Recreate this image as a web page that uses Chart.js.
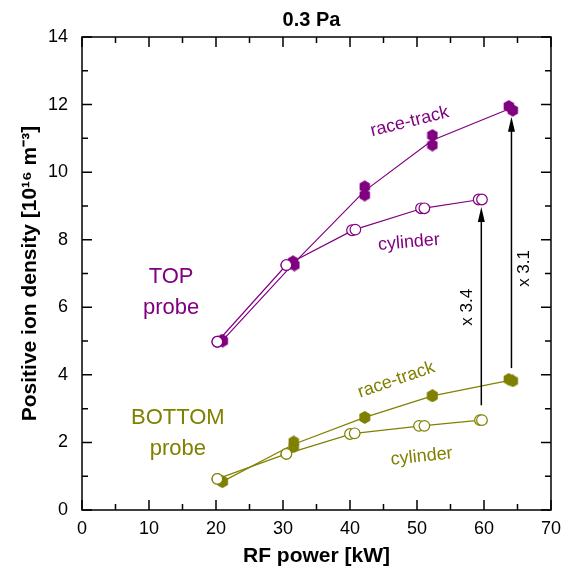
<!DOCTYPE html>
<html>
<head>
<meta charset="utf-8">
<script src="https://cdn.jsdelivr.net/npm/chart.js@4"></script>
<style>
  html, body { margin: 0; padding: 0; background: #fff; }
  #wrap { width: 569px; height: 580px; }
</style>
</head>
<body>
<div id="wrap"><canvas id="chart" width="569" height="580"></canvas></div>
<script>
// RF power [kW] / density [1e16 m^-3], two runs per series (A and B)
const raceTopPowerA = [20.9, 31.5, 42.2, 52.3, 63.7];
const raceTopDensA  = [5.03, 7.35, 9.57, 11.09, 11.95];
const raceTopPowerB = [21.0, 31.7, 42.2, 52.3, 64.3];
const raceTopDensB  = [5.00, 7.25, 9.32, 10.80, 11.83];

const cylTopPowerA = [20.2, 30.5, 40.3, 50.6, 59.2];
const cylTopDensA  = [4.98, 7.25, 8.28, 8.93, 9.19];
const cylTopPowerB = [20.2, 30.5, 40.8, 51.1, 59.7];
const cylTopDensB  = [4.98, 7.25, 8.30, 8.93, 9.19];

const raceBotPowerA = [20.9, 31.6, 42.2, 52.3, 63.7];
const raceBotDensA  = [0.84, 2.02, 2.74, 3.38, 3.87];
const raceBotPowerB = [21.0, 31.6, 42.2, 52.3, 64.3];
const raceBotDensB  = [0.84, 1.87, 2.74, 3.38, 3.82];

const cylBotPowerA = [20.2, 30.5, 40.0, 50.3, 59.4];
const cylBotDensA  = [0.92, 1.66, 2.25, 2.49, 2.66];
const cylBotPowerB = [20.2, 30.5, 40.7, 51.1, 59.7];
const cylBotDensB  = [0.92, 1.66, 2.27, 2.49, 2.66];

// ratio arrows: power, from, to
const arrowPower = [59.6, 64.1];
const arrowFrom  = [3.1, 4.2];
const arrowTo    = [8.97, 11.64];
const arrowText  = ['x 3.4', 'x 3.1'];

const PURPLE = '#800080';
const OLIVE = '#808000';
const FONT = '"Liberation Sans", Arial, sans-serif';

function pts(xs, ys) {
    return xs.map((x, i) => ({ x: x, y: ys[i] }));
}
function meanPts(xa, ya, xb, yb) {
    return xa.map((x, i) => ({ x: (x + xb[i]) / 2, y: (ya[i] + yb[i]) / 2 }));
}

// filled hexagon marker (pointy top)
function hexCanvas(color) {
    const c = document.createElement('canvas');
    c.width = 12; c.height = 13;
    const g = c.getContext('2d');
    g.fillStyle = color;
    g.beginPath();
    for (let i = 0; i < 6; i++) {
        const a = (-90 + 60 * i) * Math.PI / 180;
        const px = 6 + 6 * Math.cos(a), py = 6.5 + 6.3 * Math.sin(a);
        if (i === 0) g.moveTo(px, py); else g.lineTo(px, py);
    }
    g.closePath();
    g.fill();
    return c;
}
const hexPurple = hexCanvas(PURPLE);
const hexOlive = hexCanvas(OLIVE);

function hexSet(data, img) {
    return { data: data, showLine: false, pointStyle: img, pointRadius: 6, borderWidth: 0 };
}
function circSet(data, color) {
    return { data: data, showLine: false, pointStyle: 'circle', pointRadius: 5.3,
             borderWidth: 1.2, borderColor: color, backgroundColor: '#fff' };
}
function lineSet(data, color) {
    return { data: data, showLine: true, pointRadius: 0, borderWidth: 1.2,
             borderColor: color, fill: false };
}

// text annotations placed in data coordinates
const labels = [
    { text: 'race-track', x: 48.9, y: 11.49, rot: -14, color: PURPLE, size: 18 },
    { text: 'cylinder', x: 48.8, y: 7.92, rot: -5, color: PURPLE, size: 18 },
    { text: 'race-track', x: 46.9, y: 3.85, rot: -19, color: OLIVE, size: 18 },
    { text: 'cylinder', x: 50.7, y: 1.58, rot: -6, color: OLIVE, size: 18 },
    { text: 'TOP', x: 13.3, y: 6.9, rot: 0, color: PURPLE, size: 22 },
    { text: 'probe', x: 13.3, y: 5.98, rot: 0, color: PURPLE, size: 22 },
    { text: 'BOTTOM', x: 14.3, y: 2.72, rot: 0, color: OLIVE, size: 22 },
    { text: 'probe', x: 14.3, y: 1.8, rot: 0, color: OLIVE, size: 22 }
];
const arrowLabelOffset = [-14, 13];
const arrowLabelY = [6.0, 7.15];

const frameTicks = {
    id: 'frameTicks',
    beforeDatasetsDraw(chart) {
        const { ctx, chartArea: a, scales: { x, y } } = chart;
        ctx.save();
        ctx.strokeStyle = '#000';
        ctx.lineWidth = 1.5;
        ctx.strokeRect(a.left, a.top, a.right - a.left, a.bottom - a.top);
        ctx.beginPath();
        for (let v = 0; v <= 70; v += 5) {
            const px = x.getPixelForValue(v);
            const len = v % 10 === 0 ? 10 : 6;
            ctx.moveTo(px, a.bottom); ctx.lineTo(px, a.bottom - len);
            ctx.moveTo(px, a.top); ctx.lineTo(px, a.top + len);
        }
        for (let v = 0; v <= 14; v += 1) {
            const py = y.getPixelForValue(v);
            const len = v % 2 === 0 ? 10 : 6;
            ctx.moveTo(a.left, py); ctx.lineTo(a.left + len, py);
            ctx.moveTo(a.right, py); ctx.lineTo(a.right - len, py);
        }
        ctx.stroke();
        ctx.restore();
    },
    afterDatasetsDraw(chart) {
        const { ctx, chartArea: a, scales: { x, y } } = chart;
        ctx.save();
        // title
        ctx.fillStyle = '#000';
        ctx.font = 'bold 20px ' + FONT;
        ctx.textAlign = 'center';
        ctx.textBaseline = 'middle';
        ctx.fillText('0.3 Pa', (a.left + a.right) / 2 - 5, 20);

        // arrows
        arrowPower.forEach((p, i) => {
            const px = x.getPixelForValue(p);
            const y0 = y.getPixelForValue(arrowFrom[i]);
            const y1 = y.getPixelForValue(arrowTo[i]);
            ctx.strokeStyle = '#000';
            ctx.lineWidth = 1.5;
            ctx.beginPath();
            ctx.moveTo(px, y0); ctx.lineTo(px, y1 + 12);
            ctx.stroke();
            ctx.fillStyle = '#000';
            ctx.beginPath();
            ctx.moveTo(px, y1);
            ctx.lineTo(px - 3.5, y1 + 15);
            ctx.lineTo(px + 3.5, y1 + 15);
            ctx.closePath();
            ctx.fill();

            ctx.save();
            ctx.translate(px + arrowLabelOffset[i], y.getPixelForValue(arrowLabelY[i]));
            ctx.rotate(-Math.PI / 2);
            ctx.font = '17px ' + FONT;
            ctx.textAlign = 'center';
            ctx.textBaseline = 'middle';
            ctx.fillText(arrowText[i], 0, 0);
            ctx.restore();
        });

        // series labels
        labels.forEach(l => {
            ctx.save();
            ctx.translate(x.getPixelForValue(l.x), y.getPixelForValue(l.y));
            ctx.rotate(l.rot * Math.PI / 180);
            ctx.fillStyle = l.color;
            ctx.font = l.size + 'px ' + FONT;
            ctx.textAlign = 'center';
            ctx.textBaseline = 'middle';
            ctx.fillText(l.text, 0, 0);
            ctx.restore();
        });
        ctx.restore();
    }
};

new Chart(document.getElementById('chart'), {
    type: 'scatter',
    data: {
        datasets: [
            circSet(pts(cylTopPowerB, cylTopDensB), PURPLE),
            circSet(pts(cylTopPowerA, cylTopDensA), PURPLE),
            hexSet(pts(raceTopPowerB, raceTopDensB), hexPurple),
            hexSet(pts(raceTopPowerA, raceTopDensA), hexPurple),
            circSet(pts(cylBotPowerB, cylBotDensB), OLIVE),
            circSet(pts(cylBotPowerA, cylBotDensA), OLIVE),
            hexSet(pts(raceBotPowerB, raceBotDensB), hexOlive),
            hexSet(pts(raceBotPowerA, raceBotDensA), hexOlive),
            lineSet(meanPts(raceTopPowerA, raceTopDensA, raceTopPowerB, raceTopDensB), PURPLE),
            lineSet(meanPts(cylTopPowerA, cylTopDensA, cylTopPowerB, cylTopDensB), PURPLE),
            lineSet(meanPts(raceBotPowerA, raceBotDensA, raceBotPowerB, raceBotDensB), OLIVE),
            lineSet(meanPts(cylBotPowerA, cylBotDensA, cylBotPowerB, cylBotDensB), OLIVE)
        ]
    },
    options: {
        responsive: false,
        animation: false,
        layout: { padding: { top: 37, right: 13, left: 0, bottom: 0 } },
        plugins: {
            legend: { display: false },
            tooltip: { enabled: false }
        },
        scales: {
            x: {
                type: 'linear',
                min: 0, max: 70,
                afterFit: s => { s.height = 70; },
                grid: { display: false, drawTicks: false },
                border: { display: false },
                ticks: { stepSize: 10, padding: 8, color: '#000', font: { family: FONT, size: 18 } },
                title: { display: true, text: 'RF power [kW]', color: '#000',
                         padding: { top: 0, bottom: 11 },
                         font: { family: FONT, size: 21, weight: 'bold' } }
            },
            y: {
                type: 'linear',
                min: 0, max: 14,
                afterFit: s => { s.width = 82; },
                grid: { display: false, drawTicks: false },
                border: { display: false },
                ticks: { stepSize: 2, padding: 14, color: '#000', font: { family: FONT, size: 18 } },
                title: { display: true, text: 'Positive ion density [10\u00B9\u2076 m\u207B\u00B3]', color: '#000',
                         padding: { top: 18, bottom: 0 },
                         font: { family: FONT, size: 21, weight: 'bold' } }
            }
        }
    },
    plugins: [frameTicks]
});
</script>
</body>
</html>
